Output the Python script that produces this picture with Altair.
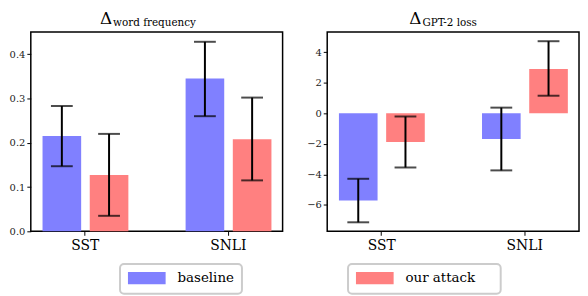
import json
import altair as alt
import pandas as pd

# ---- data ----
datasets = ["SST", "SNLI"]
series = ["baseline", "our attack"]

wf_baseline = [0.215, 0.345]
wf_baseline_lo = [0.147, 0.260]
wf_baseline_hi = [0.283, 0.428]
wf_attack = [0.127, 0.208]
wf_attack_lo = [0.035, 0.115]
wf_attack_hi = [0.220, 0.302]

gpt_baseline = [-5.72, -1.69]
gpt_baseline_lo = [-7.14, -3.74]
gpt_baseline_hi = [-4.29, 0.37]
gpt_attack = [-1.88, 2.90]
gpt_attack_lo = [-3.55, 1.15]
gpt_attack_hi = [-0.21, 4.72]

colors = ["#8080FF", "#FF8080"]
offsets = {"baseline": -0.16, "our attack": 0.17}
half_w = 0.135
FONT = "DejaVu Serif"
W, H = 254, 201


def frame(means, los, his):
    rows = []
    for s, m, lo, hi in zip(series, means, los, his):
        for i, d in enumerate(datasets):
            xc = i + offsets[s]
            rows.append(dict(dataset=d, series=s, xc=xc, x0=xc - half_w,
                             x1=xc + half_w, mean=m[i], lo=lo[i], hi=hi[i], base=0))
    return pd.DataFrame(rows)


df_wf = frame([wf_baseline, wf_attack], [wf_baseline_lo, wf_attack_lo],
              [wf_baseline_hi, wf_attack_hi])
df_gpt = frame([gpt_baseline, gpt_attack], [gpt_baseline_lo, gpt_attack_lo],
               [gpt_baseline_hi, gpt_attack_hi])

label_expr = json.dumps(datasets) + "[datum.value]"


def panel(df, ydom, yvals, yfmt, sub, delta_x, legend_idx, box_x, box_w):
    xs = alt.Scale(domain=[-0.377, 1.383], nice=False, zero=False)
    ys = alt.Scale(domain=ydom, nice=False, zero=False)
    xaxis = alt.Axis(values=[0, 1], labelExpr=label_expr, title=None, grid=False,
                     labelFont=FONT, labelFontSize=14, labelColor="black",
                     tickColor="black", tickSize=4, domain=False, labelPadding=3)
    yaxis = alt.Axis(values=yvals, format=yfmt, title=None, grid=False,
                     labelFont=FONT, labelFontSize=10, labelColor="#222",
                     tickColor="black", tickSize=4, domain=False, labelPadding=2)
    base = alt.Chart(df)
    bars = base.mark_bar().encode(
        x=alt.X("x0:Q", scale=xs, axis=xaxis),
        x2="x1:Q",
        y=alt.Y("base:Q", scale=ys, axis=yaxis),
        y2="mean:Q",
        color=alt.Color("series:N", scale=alt.Scale(domain=series, range=colors), legend=None),
    )
    err = base.mark_rule(color="black", strokeWidth=2).encode(
        x=alt.X("xc:Q", scale=xs), y=alt.Y("lo:Q", scale=ys), y2="hi:Q")
    cap_lo = base.mark_tick(color="black", thickness=2, size=22, orient="horizontal").encode(
        x=alt.X("xc:Q", scale=xs), y=alt.Y("lo:Q", scale=ys))
    cap_hi = base.mark_tick(color="black", thickness=2, size=22, orient="horizontal").encode(
        x=alt.X("xc:Q", scale=xs), y=alt.Y("hi:Q", scale=ys))

    tdf = pd.DataFrame({"d": ["Δ"], "s": [sub]})
    delta = alt.Chart(tdf).mark_text(font=FONT, fontSize=17, align="right",
                                     baseline="alphabetic", color="black").encode(
        x=alt.value(delta_x), y=alt.value(-8), text="d:N")
    subtxt = alt.Chart(tdf).mark_text(font=FONT, fontSize=10.5, align="left",
                                      baseline="alphabetic", color="black").encode(
        x=alt.value(delta_x + 1), y=alt.value(-6.5), text="s:N")

    ldf = pd.DataFrame({"name": [series[legend_idx]]})
    box = alt.Chart(ldf).mark_rect(fill="white", stroke="#cccccc", strokeWidth=2,
                                   cornerRadius=4).encode(
        x=alt.value(box_x), x2=alt.value(box_x + box_w),
        y=alt.value(234), y2=alt.value(264))
    swatch = alt.Chart(ldf).mark_rect(color=colors[legend_idx]).encode(
        x=alt.value(box_x + 8), x2=alt.value(box_x + 46),
        y=alt.value(242), y2=alt.value(254.5))
    ltxt = alt.Chart(ldf).mark_text(font=FONT, fontSize=13.5, align="left",
                                    baseline="middle", color="black").encode(
        x=alt.value(box_x + 58), y=alt.value(248), text="name:N")

    return alt.layer(bars, err, cap_lo, cap_hi, delta, subtxt, box, swatch, ltxt).properties(
        width=W, height=H)


left = panel(df_wf, [0, 0.45], [0, 0.1, 0.2, 0.3, 0.4], ".1f", "word frequency",
             82, 0, 90, 123)
right = panel(df_gpt, [-7.73, 5.32], [-6, -4, -2, 0, 2, 4], "d", "GPT-2 loss",
              95, 1, 21, 154)

chart = alt.hconcat(left, right, spacing=22).configure_view(
    stroke="black", strokeWidth=1.5).properties(
    padding={"top": 0, "left": 0, "right": 0, "bottom": 0})

chart.save("out.html", embed_options={"renderer": "svg", "actions": False})
